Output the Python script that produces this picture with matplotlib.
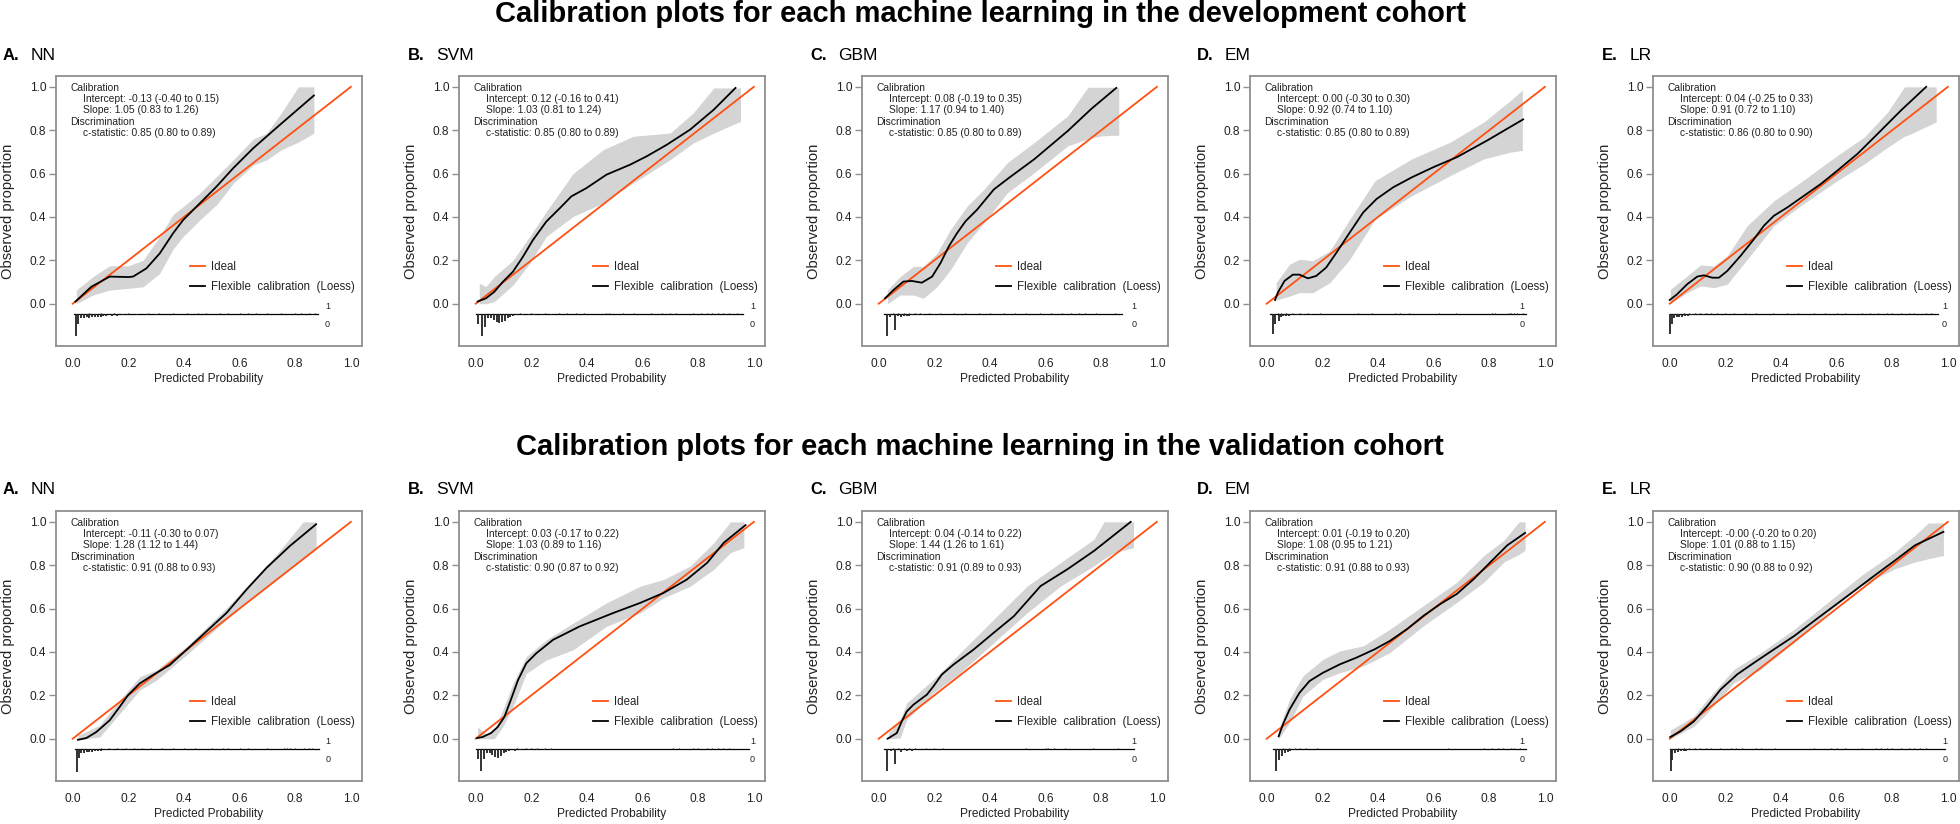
import matplotlib
matplotlib.use('Agg')
import matplotlib.pyplot as plt
import numpy as np

plt.rcParams['font.family'] = ['Liberation Sans', 'DejaVu Sans']

# panels: development row (0-4), validation row (5-9)
models = ['NN', 'SVM', 'GBM', 'EM', 'LR']
letters = ['A.', 'B.', 'C.', 'D.', 'E.']
row_titles = ['Calibration plots for each machine learning in the development cohort',
              'Calibration plots for each machine learning in the validation cohort']

intercepts = ['-0.13 (-0.40 to 0.15)', '0.12 (-0.16 to 0.41)', '0.08 (-0.19 to 0.35)',
              '0.00 (-0.30 to 0.30)', '0.04 (-0.25 to 0.33)',
              '-0.11 (-0.30 to 0.07)', '0.03 (-0.17 to 0.22)', '0.04 (-0.14 to 0.22)',
              '0.01 (-0.19 to 0.20)', '-0.00 (-0.20 to 0.20)']
slopes = ['1.05 (0.83 to 1.26)', '1.03 (0.81 to 1.24)', '1.17 (0.94 to 1.40)',
          '0.92 (0.74 to 1.10)', '0.91 (0.72 to 1.10)',
          '1.28 (1.12 to 1.44)', '1.03 (0.89 to 1.16)', '1.44 (1.26 to 1.61)',
          '1.08 (0.95 to 1.21)', '1.01 (0.88 to 1.15)']
cstats = ['0.85 (0.80 to 0.89)', '0.85 (0.80 to 0.89)', '0.85 (0.80 to 0.89)',
          '0.85 (0.80 to 0.89)', '0.86 (0.80 to 0.90)',
          '0.91 (0.88 to 0.93)', '0.90 (0.87 to 0.92)', '0.91 (0.89 to 0.93)',
          '0.91 (0.88 to 0.93)', '0.90 (0.88 to 0.92)']

# loess curves
curve_x = [
    [0.01, 0.067, 0.133, 0.2, 0.217, 0.265, 0.313, 0.361, 0.397, 0.457, 0.517, 0.577, 0.649, 0.745, 0.867],
    [0.007, 0.037, 0.067, 0.097, 0.134, 0.17, 0.206, 0.254, 0.302, 0.344, 0.398, 0.47, 0.555, 0.615, 0.687, 0.771, 0.856, 0.934],
    [0.023, 0.053, 0.089, 0.119, 0.155, 0.192, 0.222, 0.252, 0.282, 0.312, 0.354, 0.414, 0.469, 0.559, 0.68, 0.764, 0.854],
    [0.03, 0.04, 0.064, 0.094, 0.118, 0.148, 0.178, 0.214, 0.251, 0.299, 0.347, 0.395, 0.455, 0.522, 0.6, 0.684, 0.793, 0.922],
    [0.0, 0.026, 0.063, 0.099, 0.123, 0.153, 0.177, 0.207, 0.255, 0.303, 0.339, 0.375, 0.423, 0.483, 0.543, 0.603, 0.675, 0.748, 0.832, 0.922],
    [0.019, 0.049, 0.085, 0.133, 0.169, 0.199, 0.241, 0.289, 0.349, 0.409, 0.481, 0.553, 0.625, 0.697, 0.781, 0.875],
    [0.005, 0.025, 0.055, 0.079, 0.103, 0.128, 0.152, 0.182, 0.218, 0.278, 0.374, 0.495, 0.591, 0.675, 0.759, 0.832, 0.892, 0.97],
    [0.032, 0.065, 0.083, 0.101, 0.125, 0.173, 0.197, 0.227, 0.269, 0.341, 0.413, 0.486, 0.582, 0.678, 0.774, 0.906],
    [0.043, 0.058, 0.082, 0.118, 0.154, 0.202, 0.263, 0.323, 0.389, 0.443, 0.504, 0.564, 0.624, 0.684, 0.745, 0.805, 0.865, 0.929],
    [0.002, 0.039, 0.087, 0.135, 0.183, 0.243, 0.304, 0.376, 0.448, 0.52, 0.593, 0.665, 0.737, 0.81, 0.882, 0.984],
]
curve_y = [
    [0.01, 0.078, 0.125, 0.123, 0.125, 0.163, 0.232, 0.325, 0.386, 0.463, 0.54, 0.625, 0.717, 0.825, 0.96],
    [0.01, 0.025, 0.055, 0.10, 0.148, 0.217, 0.294, 0.379, 0.44, 0.495, 0.533, 0.595, 0.641, 0.68, 0.733, 0.803, 0.895, 0.995],
    [0.025, 0.063, 0.102, 0.105, 0.097, 0.125, 0.187, 0.264, 0.326, 0.38, 0.434, 0.527, 0.581, 0.666, 0.797, 0.898, 0.995],
    [0.017, 0.051, 0.105, 0.134, 0.134, 0.117, 0.128, 0.167, 0.236, 0.329, 0.421, 0.483, 0.537, 0.583, 0.63, 0.676, 0.753, 0.85],
    [0.017, 0.043, 0.09, 0.125, 0.131, 0.12, 0.12, 0.151, 0.221, 0.298, 0.36, 0.406, 0.444, 0.498, 0.552, 0.614, 0.691, 0.784, 0.892, 1.0],
    [-0.005, 0.003, 0.031, 0.085, 0.147, 0.201, 0.255, 0.294, 0.34, 0.41, 0.495, 0.58, 0.688, 0.788, 0.889, 0.989],
    [0.003, 0.008, 0.026, 0.054, 0.10, 0.185, 0.27, 0.348, 0.394, 0.456, 0.518, 0.58, 0.626, 0.672, 0.734, 0.811, 0.904, 0.985],
    [0.0, 0.026, 0.08, 0.126, 0.157, 0.203, 0.242, 0.296, 0.342, 0.411, 0.488, 0.565, 0.704, 0.781, 0.866, 1.0],
    [0.011, 0.065, 0.134, 0.212, 0.266, 0.304, 0.343, 0.374, 0.413, 0.451, 0.505, 0.567, 0.621, 0.668, 0.737, 0.815, 0.892, 0.949],
    [0.008, 0.034, 0.08, 0.15, 0.227, 0.297, 0.351, 0.413, 0.474, 0.544, 0.614, 0.683, 0.753, 0.822, 0.892, 0.954],
]

# confidence bands
band_x = [
    [0.013, 0.073, 0.133, 0.2, 0.253, 0.313, 0.36, 0.397, 0.457, 0.52, 0.577, 0.65, 0.697, 0.75, 0.811, 0.867],
    [0.013, 0.037, 0.067, 0.134, 0.194, 0.254, 0.35, 0.458, 0.566, 0.699, 0.782, 0.856, 0.952],
    [0.031, 0.077, 0.125, 0.161, 0.21, 0.258, 0.318, 0.378, 0.463, 0.559, 0.68, 0.752, 0.8, 0.863],
    [0.034, 0.082, 0.118, 0.166, 0.227, 0.299, 0.39, 0.522, 0.66, 0.781, 0.877, 0.919],
    [0.002, 0.063, 0.111, 0.159, 0.207, 0.279, 0.375, 0.471, 0.603, 0.7, 0.784, 0.844, 0.868, 0.958],
    [0.019, 0.097, 0.169, 0.241, 0.301, 0.409, 0.553, 0.649, 0.733, 0.829, 0.875],
    [0.007, 0.037, 0.067, 0.097, 0.134, 0.182, 0.254, 0.35, 0.47, 0.591, 0.675, 0.771, 0.856, 0.916, 0.964],
    [0.035, 0.077, 0.101, 0.197, 0.293, 0.413, 0.534, 0.654, 0.774, 0.81, 0.846, 0.916],
    [0.043, 0.082, 0.13, 0.202, 0.263, 0.347, 0.443, 0.564, 0.684, 0.781, 0.853, 0.907, 0.929],
    [0.002, 0.087, 0.135, 0.231, 0.328, 0.448, 0.569, 0.689, 0.81, 0.882, 0.93, 0.984],
]
band_lo = [
    [0.0, 0.04, 0.063, 0.071, 0.078, 0.14, 0.25, 0.31, 0.386, 0.46, 0.555, 0.64, 0.663, 0.71, 0.745, 0.786],
    [0.0, 0.0, 0.01, 0.086, 0.186, 0.31, 0.402, 0.464, 0.556, 0.664, 0.741, 0.787, 0.841],
    [0.0, 0.04, 0.04, 0.025, 0.079, 0.156, 0.28, 0.372, 0.512, 0.604, 0.728, 0.76, 0.774, 0.777],
    [0.017, 0.035, 0.051, 0.051, 0.097, 0.205, 0.39, 0.498, 0.591, 0.668, 0.699, 0.707],
    [0.0, 0.051, 0.082, 0.074, 0.09, 0.205, 0.36, 0.452, 0.568, 0.645, 0.722, 0.772, 0.784, 0.838],
    [-0.005, 0.008, 0.116, 0.224, 0.27, 0.386, 0.549, 0.657, 0.734, 0.827, 0.873],
    [0.0, 0.0, 0.0, 0.054, 0.147, 0.301, 0.363, 0.41, 0.518, 0.58, 0.649, 0.703, 0.781, 0.858, 0.881],
    [0.0, 0.003, 0.088, 0.211, 0.304, 0.442, 0.581, 0.704, 0.797, 0.83, 0.858, 0.881],
    [0.0, 0.073, 0.196, 0.274, 0.304, 0.335, 0.397, 0.521, 0.629, 0.722, 0.815, 0.85, 0.869],
    [0.0, 0.057, 0.119, 0.258, 0.32, 0.444, 0.583, 0.706, 0.784, 0.815, 0.83, 0.845],
]
band_hi = [
    [0.063, 0.125, 0.175, 0.175, 0.2, 0.31, 0.41, 0.448, 0.51, 0.59, 0.663, 0.76, 0.786, 0.88, 1.0, 1.0],
    [0.094, 0.079, 0.125, 0.2, 0.31, 0.425, 0.6, 0.71, 0.772, 0.787, 0.88, 0.995, 0.995],
    [0.063, 0.125, 0.172, 0.172, 0.233, 0.342, 0.45, 0.527, 0.651, 0.743, 0.867, 0.998, 0.998, 0.998],
    [0.097, 0.182, 0.205, 0.198, 0.244, 0.39, 0.568, 0.668, 0.745, 0.838, 0.938, 0.985],
    [0.066, 0.128, 0.179, 0.174, 0.221, 0.36, 0.475, 0.56, 0.684, 0.769, 0.884, 1.0, 1.0, 1.0],
    [0.015, 0.062, 0.178, 0.286, 0.317, 0.425, 0.603, 0.734, 0.85, 1.0, 1.0],
    [0.054, 0.023, 0.039, 0.131, 0.255, 0.379, 0.456, 0.533, 0.626, 0.703, 0.734, 0.796, 0.904, 1.0, 1.0],
    [0.026, 0.088, 0.165, 0.273, 0.396, 0.55, 0.704, 0.812, 0.92, 1.0, 1.0, 1.0],
    [0.042, 0.181, 0.289, 0.366, 0.405, 0.428, 0.505, 0.614, 0.722, 0.845, 0.915, 1.0, 1.0],
    [0.039, 0.104, 0.181, 0.32, 0.397, 0.505, 0.629, 0.753, 0.861, 0.938, 0.995, 0.995],
]

# spike histograms: range of predictions, outcome 0 (down) and outcome 1 (up)
rug_lo = [0.004, 0.0, 0.02, 0.012, 0.0, 0.007, 0.0, 0.02, 0.022, 0.0]
rug_hi = [0.882, 0.96, 0.875, 0.931, 0.964, 0.887, 0.982, 0.918, 0.931, 0.99]
rug_lab_x = [0.916, 0.995, 0.918, 0.917, 0.988, 0.917, 0.995, 0.918, 0.917, 0.99]
zero_x = [
    [0.011, 0.02, 0.03, 0.04, 0.05, 0.06, 0.07, 0.08, 0.09, 0.10, 0.11, 0.12, 0.14, 0.16, 0.18, 0.2, 0.23, 0.27, 0.3],
    [0.01, 0.021, 0.033, 0.045, 0.055, 0.065, 0.075, 0.085, 0.095, 0.105, 0.115, 0.125, 0.135, 0.15, 0.17, 0.19, 0.21, 0.24, 0.27],
    [0.029, 0.04, 0.059, 0.07, 0.08, 0.09, 0.1, 0.11, 0.12, 0.14, 0.16, 0.2, 0.22],
    [0.024, 0.031, 0.043, 0.05, 0.06, 0.07, 0.08, 0.09, 0.11, 0.13, 0.16, 0.19],
    [0.0, 0.008, 0.015, 0.025, 0.035, 0.045, 0.055, 0.065, 0.075, 0.085, 0.1, 0.12],
    [0.016, 0.022, 0.03, 0.04, 0.05, 0.06, 0.07, 0.08, 0.09, 0.1, 0.12, 0.14, 0.17, 0.2],
    [0.01, 0.018, 0.03, 0.04, 0.05, 0.06, 0.07, 0.08, 0.09, 0.1, 0.11, 0.12, 0.14, 0.16, 0.19, 0.22, 0.25, 0.27],
    [0.03, 0.045, 0.058, 0.08, 0.1, 0.12],
    [0.033, 0.045, 0.055, 0.065, 0.075, 0.085, 0.1],
    [0.003, 0.01, 0.02, 0.03, 0.04, 0.05, 0.06, 0.07, 0.08, 0.1],
]
zero_h = [
    [0.10, 0.045, 0.02, 0.018, 0.015, 0.018, 0.015, 0.012, 0.015, 0.012, 0.01, 0.01, 0.008, 0.008, 0.006, 0.006, 0.004, 0.004, 0.003],
    [0.045, 0.103, 0.06, 0.02, 0.02, 0.025, 0.035, 0.04, 0.035, 0.03, 0.02, 0.015, 0.01, 0.006, 0.005, 0.005, 0.004, 0.004, 0.003],
    [0.1, 0.012, 0.075, 0.01, 0.012, 0.008, 0.01, 0.008, 0.006, 0.005, 0.004, 0.004, 0.003],
    [0.093, 0.045, 0.03, 0.012, 0.01, 0.008, 0.008, 0.006, 0.005, 0.004, 0.003, 0.003],
    [0.093, 0.045, 0.02, 0.015, 0.012, 0.012, 0.01, 0.008, 0.006, 0.006, 0.004, 0.003],
    [0.104, 0.04, 0.02, 0.018, 0.015, 0.012, 0.012, 0.01, 0.008, 0.008, 0.006, 0.005, 0.004, 0.003],
    [0.045, 0.1, 0.045, 0.02, 0.018, 0.025, 0.035, 0.04, 0.03, 0.02, 0.015, 0.01, 0.008, 0.006, 0.005, 0.004, 0.004, 0.003],
    [0.1, 0.01, 0.07, 0.015, 0.01, 0.008],
    [0.1, 0.05, 0.03, 0.02, 0.012, 0.008, 0.005],
    [0.1, 0.05, 0.02, 0.012, 0.01, 0.008, 0.008, 0.006, 0.005, 0.004],
]
one_x = [
    [0.06, 0.1, 0.15, 0.2, 0.27, 0.31, 0.36, 0.41, 0.45, 0.48, 0.53, 0.56, 0.6, 0.63, 0.66, 0.7, 0.75, 0.8, 0.82, 0.85, 0.87],
    [0.16, 0.2, 0.25, 0.3, 0.33, 0.36, 0.39, 0.47, 0.48, 0.53, 0.57, 0.63, 0.67, 0.7, 0.72, 0.78, 0.81, 0.83, 0.85, 0.87, 0.89, 0.91, 0.94],
    [0.05, 0.07, 0.09, 0.11, 0.13, 0.15, 0.18, 0.22, 0.27, 0.31, 0.36, 0.4, 0.45, 0.49, 0.53, 0.58, 0.62, 0.66, 0.69, 0.72, 0.74, 0.78, 0.85],
    [0.04, 0.05, 0.07, 0.09, 0.12, 0.15, 0.19, 0.33, 0.38, 0.46, 0.48, 0.51, 0.62, 0.68, 0.81, 0.82, 0.87, 0.88, 0.89, 0.9, 0.92],
    [0.05, 0.07, 0.09, 0.11, 0.13, 0.15, 0.17, 0.2, 0.23, 0.27, 0.31, 0.37, 0.42, 0.46, 0.52, 0.56, 0.6, 0.63, 0.69, 0.72, 0.75, 0.78, 0.8, 0.83, 0.86, 0.88, 0.92, 0.94],
    [0.1, 0.13, 0.16, 0.19, 0.22, 0.25, 0.28, 0.32, 0.36, 0.4, 0.44, 0.5, 0.54, 0.56, 0.6, 0.63, 0.7, 0.76, 0.77, 0.78, 0.8, 0.83, 0.85, 0.86],
    [0.15, 0.18, 0.2, 0.22, 0.25, 0.27, 0.71, 0.73, 0.78, 0.8, 0.83, 0.85, 0.87, 0.89, 0.91],
    [0.05, 0.07, 0.09, 0.11, 0.13, 0.17, 0.2, 0.23, 0.53, 0.6, 0.61, 0.63, 0.67, 0.77, 0.86],
    [0.06, 0.08, 0.1, 0.12, 0.14, 0.18, 0.65, 0.78, 0.81, 0.83, 0.85, 0.88, 0.89, 0.91],
    [0.03, 0.05, 0.07, 0.09, 0.11, 0.13, 0.15, 0.18, 0.22, 0.24, 0.26, 0.31, 0.33, 0.38, 0.52, 0.58, 0.6, 0.63, 0.69, 0.74, 0.76, 0.78, 0.8, 0.83, 0.86, 0.88, 0.9, 0.92],
]

ticks = [0.0, 0.2, 0.4, 0.6, 0.8, 1.0]
tick_labels = ['0.0', '0.2', '0.4', '0.6', '0.8', '1.0']

# layout in pixels
W, H = 1960, 824
box_left = [56, 459, 862, 1250, 1653]
box_top = [76, 511]
box_w, box_h = 306, 270
label_x = [3, 408, 810, 1197, 1602]
label_y = [56, 490]
title_y = [14, 447]

ORANGE = '#ff5010'
BAND = '#d4d4d4'
BOXC = '#8f8f8f'
TXT = '#222222'
BASE = -0.048

fig = plt.figure(figsize=(W / 100, H / 100), dpi=100)

for r in range(2):
    fig.text(0.5, 1 - title_y[r] / H, row_titles[r], ha='center', va='center',
             fontsize=21, fontweight='bold')
    for c in range(5):
        i = r * 5 + c
        l, t = box_left[c], box_top[r]
        ax = fig.add_axes([l / W, 1 - (t + box_h) / H, box_w / W, box_h / H])

        ax.fill_between(band_x[i], band_lo[i], band_hi[i], color=BAND, lw=0)
        ax.plot([0, 1], [0, 1], color=ORANGE, lw=1.3, label='Ideal')
        ax.plot(curve_x[i], curve_y[i], color='black', lw=1.3,
                label='Flexible  calibration  (Loess)')

        # spike histogram
        ax.plot([rug_lo[i], rug_hi[i]], [BASE, BASE], color='black', lw=0.9)
        ax.vlines(zero_x[i], BASE - np.array(zero_h[i]), BASE, color='#222222', lw=1.3)
        ax.vlines(one_x[i], BASE, BASE + 0.007, color='#222222', lw=0.9)
        ax.text(rug_lab_x[i], BASE + 0.033, '1', fontsize=6.5, ha='center', va='center', color=TXT)
        ax.text(rug_lab_x[i], BASE - 0.047, '0', fontsize=6.5, ha='center', va='center', color=TXT)

        # calibration statistics
        lines = [('Calibration', -0.008),
                 ('Intercept: ' + intercepts[i], 0.038),
                 ('Slope: ' + slopes[i], 0.038),
                 ('Discrimination', -0.008),
                 ('c-statistic: ' + cstats[i], 0.038)]
        for k, (s, x) in enumerate(lines):
            ax.text(x, 0.994 - k * 0.0515, s, fontsize=7.4, ha='left', va='center', color=TXT)

        leg = ax.legend(loc='center left', bbox_to_anchor=(0.42, 0.123),
                        bbox_transform=ax.transData, frameon=False, fontsize=8.3,
                        handlelength=1.35, handletextpad=0.55, labelspacing=0.75,
                        borderpad=0, borderaxespad=0)
        for tx in leg.get_texts():
            tx.set_color(TXT)

        ax.set_xlim(-0.06, 1.04)
        ax.set_ylim(-0.195, 1.05)
        ax.set_xticks(ticks)
        ax.set_xticklabels(tick_labels)
        ax.set_yticks(ticks)
        ax.set_yticklabels(tick_labels)
        ax.tick_params(axis='x', length=0, pad=9, labelsize=8.6, labelcolor=TXT)
        ax.tick_params(axis='y', length=5, pad=2, labelsize=8.6, labelcolor=TXT,
                       color=BOXC, width=1)
        for sp in ax.spines.values():
            sp.set_color(BOXC)
            sp.set_linewidth(1.3)

        ax.set_xlabel('Predicted Probability', fontsize=8.6, color=TXT)
        ax.xaxis.set_label_coords(0.5, -0.1)
        ax.xaxis.label.set_va('top')
        ax.set_ylabel('Observed proportion', fontsize=10.6, color=TXT)
        ax.yaxis.set_label_coords(-0.135, 0.5)

        # panel letter + model name
        lx = label_x[c]
        fig.text(lx / W, 1 - label_y[r] / H, letters[c], fontsize=12, fontweight='bold',
                 ha='left', va='center')
        fig.text((lx + 28) / W, 1 - label_y[r] / H, models[c], fontsize=12.5,
                 ha='left', va='center')

fig.savefig('out.png', dpi=100)
